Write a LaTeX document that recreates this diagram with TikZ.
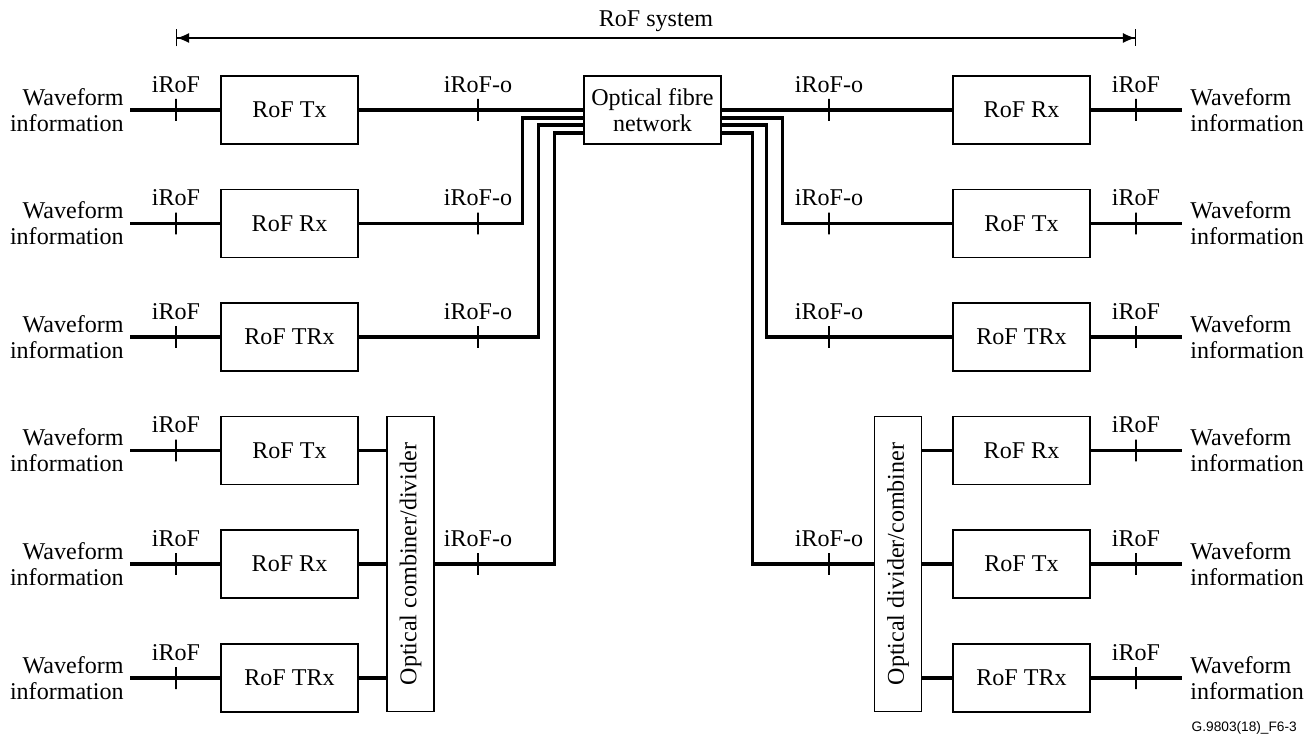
\documentclass[tikz,border=0pt]{standalone}
\usepackage{fontspec}
\setmainfont{Liberation Serif}
\setsansfont{Liberation Sans}
\usetikzlibrary{calc,arrows.meta}

\tikzset{
	rofbox/.style={draw, line width=0.7pt, minimum width=2.74cm, minimum height=1.36cm, inner sep=0pt},
	mixbox/.style={draw, line width=0.7pt, rotate=90, minimum width=5.9cm, minimum height=0.94cm, inner sep=0pt},
	refpt/.style={draw, line width=0.6pt, minimum width=0pt, minimum height=0.44cm, inner sep=0pt, label={above:#1}},
	wavel/.style={anchor=east, align=right, inner xsep=0.12cm, inner ysep=0pt},
	waver/.style={anchor=west, align=left, inner xsep=0.16cm, inner ysep=0pt},
	fibre/.style={line width=2.1pt}
}

\begin{document}
\begin{tikzpicture}[x=0.02cm, y=-0.02cm, font=\fontsize{13.7}{14.8}\selectfont]
			%%%%% START %%%%%
			\useasboundingbox (0,0) rectangle (1309,743);
			
			% RoF system span
			\coordinate (sysl) at (176,38);
			\coordinate (sysr) at (1136,38);
			\draw[line width=0.6pt, {Bar[width=0.34cm]Latex[length=0.24cm,width=0.2cm]}-{Latex[length=0.24cm,width=0.2cm]Bar[width=0.34cm]}] (sysl) -- node[above] (sysname) {RoF system} (sysr);
			
			\node[rofbox, align=center] (net) at (652.5,110) {Optical fibre\\network};
			
			% both columns, row by row
			\foreach \y/\lt/\rt [count=\i] in {110/Tx/Rx, 223.5/Rx/Tx, 337/TRx/TRx, 450.5/Tx/Rx, 564/Rx/Tx, 678/TRx/TRx}{
				\node[wavel] (wl\i) at (130,\y) {Waveform\\information};
				\node[waver] (wr\i) at (1182,\y) {Waveform\\information};
				\node[rofbox] (rofl\i) at (289.5,\y) {RoF \lt};
				\node[rofbox] (rofr\i) at (1021.5,\y) {RoF \rt};
				\node[refpt=iRoF] (il\i) at (176,\y) {};
				\node[refpt=iRoF] (ir\i) at (1136,\y) {};
				\draw[fibre] (wl\i.east) -- (il\i) -- (rofl\i.west);
				\draw[fibre] (rofr\i.east) -- (ir\i) -- (wr\i.west);
			}
			
			\node[mixbox] (comb) at (410.5,564) {Optical combiner/divider};
			\node[mixbox] (div) at (898,564) {Optical divider/combiner};
			
			\foreach \i in {1,2,3,5}{
				\node[refpt=iRoF-o] (ol\i) at (478,{\i==5 ? 564 : (\i==1 ? 110 : (\i==2 ? 223.5 : 337))}) {};
				\node[refpt=iRoF-o] (or\i) at (829,{\i==5 ? 564 : (\i==1 ? 110 : (\i==2 ? 223.5 : 337))}) {};
			}
			
			\coordinate (nl2) at ($(net.west)+(0,8)$);
			\coordinate (nl3) at ($(net.west)+(0,15)$);
			\coordinate (nl4) at ($(net.west)+(0,23)$);
			\coordinate (nr2) at ($(net.east)+(0,8)$);
			\coordinate (nr3) at ($(net.east)+(0,15)$);
			\coordinate (nr4) at ($(net.east)+(0,23)$);
			
			% left fibres
			\draw[fibre] (rofl1.east) -- (ol1) -- (net.west);
			\draw[fibre] (rofl2.east) -- (ol2) -| ($(nl2)+(-61,0)$) -- (nl2);
			\draw[fibre] (rofl3.east) -- (ol3) -| ($(nl3)+(-45,0)$) -- (nl3);
			\draw[fibre] (comb.south) -- (ol5) -| ($(nl4)+(-29,0)$) -- (nl4);
			
			% right fibres
			\draw[fibre] (net.east) -- (or1) -- (rofr1.west);
			\draw[fibre] (nr2) -- ($(nr2)+(61,0)$) |- (or2) -- (rofr2.west);
			\draw[fibre] (nr3) -- ($(nr3)+(45,0)$) |- (or3) -- (rofr3.west);
			\draw[fibre] (nr4) -- ($(nr4)+(31,0)$) |- (or5) -- (div.north);
			
			\foreach \i in {4,5,6}{
				\draw[fibre] (rofl\i.east) -- (rofl\i.east -| comb.north);
				\draw[fibre] (div.south |- rofr\i.west) -- (rofr\i.west);
			}
			
			\node[anchor=south east, font=\sffamily\fontsize{7.8}{9}\selectfont] (figid) at (1303,741) {G.9803(18)\_F6-3};
			
			%%%%% END %%%%%
\end{tikzpicture}
\end{document}
